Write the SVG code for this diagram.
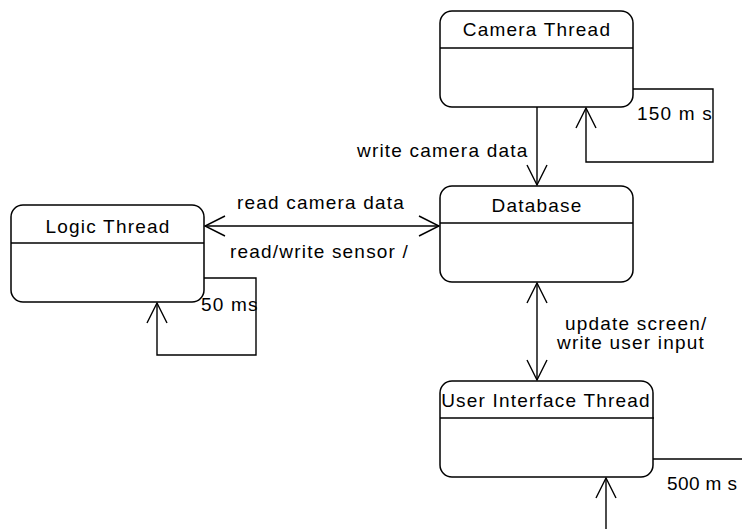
<svg xmlns="http://www.w3.org/2000/svg" width="742" height="529" viewBox="0 0 742 529">
<defs>
<marker id="arr" markerUnits="userSpaceOnUse" markerWidth="30" markerHeight="30" refX="0" refY="0" orient="auto-start-reverse" overflow="visible">
<path d="M-20,-10 L0,0 L-20,10" fill="none" stroke="#000" stroke-width="1.4"/>
</marker>
</defs>
<style>
.box{fill:#fff;stroke:#000;stroke-width:1.5}
.div{stroke:#000;stroke-width:1.4}
.ln{fill:none;stroke:#000;stroke-width:1.4}
text{font-family:"Liberation Sans",Arial,sans-serif;font-size:19px;letter-spacing:1.2px;fill:#000}
.c{text-anchor:middle}
</style>
<rect width="742" height="529" fill="#fff"/>
<g id="connectors">
<line class="ln" x1="537" y1="107" x2="537" y2="185" marker-end="url(#arr)"/>
<polyline class="ln" points="633,89 713,89 713,162 586,162 586,108" marker-end="url(#arr)"/>
<line class="ln" x1="205" y1="226" x2="439" y2="226" marker-start="url(#arr)" marker-end="url(#arr)"/>
<polyline class="ln" points="204,278 256,278 256,355 157,355 157,303" marker-end="url(#arr)"/>
<line class="ln" x1="537" y1="283" x2="537" y2="380" marker-start="url(#arr)" marker-end="url(#arr)"/>
<polyline class="ln" points="653,459 742,459"/>
<line class="ln" x1="606" y1="529" x2="606" y2="478" marker-end="url(#arr)"/>
<text x="357" y="157">write camera data</text>
<text x="637" y="120">150 m s</text>
<text x="237" y="209">read camera data</text>
<text x="230" y="258">read/write sensor /</text>
<text x="201" y="311">50 ms</text>
<text x="565" y="330">update screen/</text>
<text x="557" y="349">write user input</text>
<text x="667" y="490" style="letter-spacing:0.4px">500 m s</text>
</g>
<g id="camera">
<rect class="box" x="440" y="11" width="193" height="96" rx="12"/>
<line class="div" x1="440" y1="48" x2="633" y2="48"/>
<text class="c" x="537" y="36">Camera Thread</text>
</g>
<g id="logic">
<rect class="box" x="11" y="205" width="193" height="97" rx="12"/>
<line class="div" x1="11" y1="243" x2="204" y2="243"/>
<text class="c" x="108" y="233">Logic Thread</text>
</g>
<g id="database">
<rect class="box" x="440" y="186" width="193" height="96" rx="12"/>
<line class="div" x1="440" y1="223" x2="633" y2="223"/>
<text class="c" x="537" y="212">Database</text>
</g>
<g id="ui">
<rect class="box" x="440" y="381" width="213" height="96" rx="12"/>
<line class="div" x1="440" y1="418" x2="654" y2="418"/>
<text class="c" x="546" y="407">User Interface Thread</text>
</g>
</svg>
